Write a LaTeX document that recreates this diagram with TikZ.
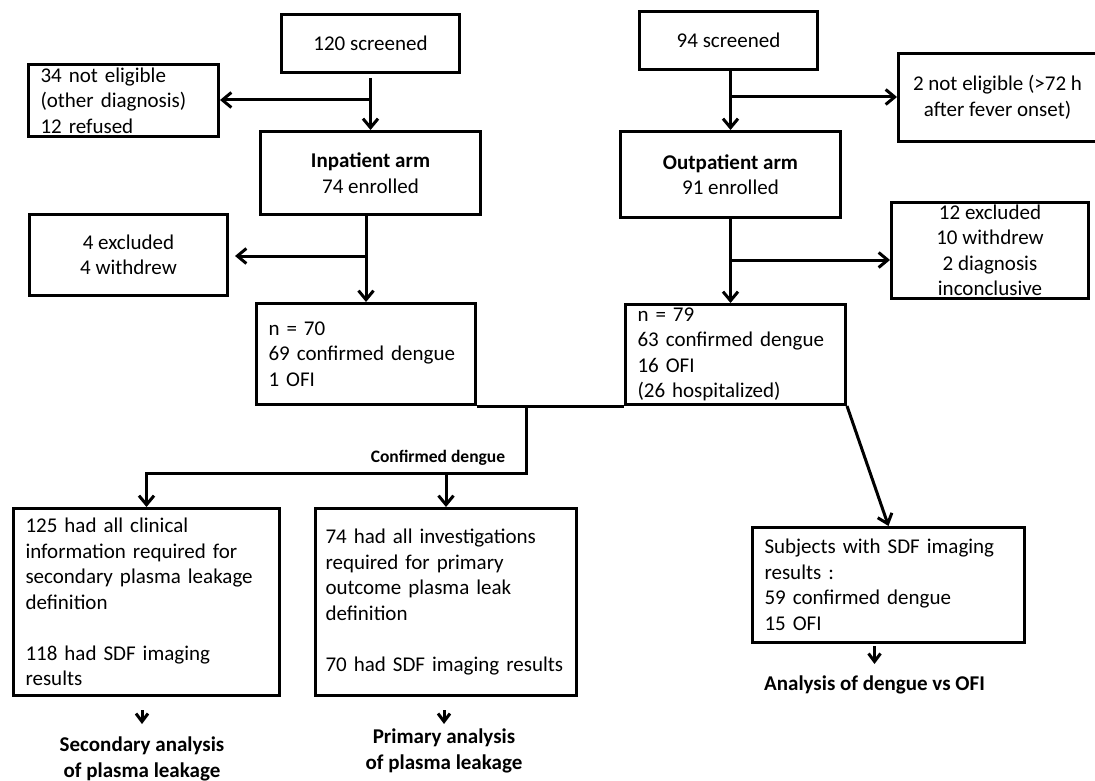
\documentclass[tikz,border=0pt]{standalone}
\usepackage{fontspec}
\setmainfont{Carlito}
\usetikzlibrary{arrows.meta}
\hyphenpenalty=10000
\exhyphenpenalty=10000
\newcommand{\boxfont}{\fontsize{21pt}{25.5pt}\selectfont}
\newcommand{\tagfont}{\fontsize{17.5pt}{21pt}\selectfont\bfseries}
\newcommand{\rulew}{3pt}
\tikzstyle{stage}=[draw=black,line width=\rulew,shape=rectangle,inner xsep=12pt,
                   inner ysep=1pt,font=\boxfont,align=center]
\tikzstyle{note}=[stage,align=left]
\tikzstyle{outcome}=[draw=none,inner sep=0pt,font=\boxfont\bfseries,align=center]
\tikzstyle{tag}=[draw=none,inner sep=0pt,font=\tagfont]
\tikzstyle{flow}=[line width=\rulew,-{Straight Barb[length=9pt,width=15pt]}]
\tikzstyle{tick}=[line width=\rulew,-{Straight Barb[length=8pt,width=12pt]}]
\begin{document}
\begin{tikzpicture}[x=1pt,y=-1pt]
\useasboundingbox (0,0) rectangle (1095,781);

\node [stage, minimum width=178pt, minimum height=58pt] (inscr) at (370.5,43.5) {120 screened};
\node [note, text width=166pt, minimum height=72pt] (inelig) at (123.5,100.5)
      {34 not eligible\\(other diagnosis)\\12 refused};
\node [stage, minimum width=220pt, minimum height=83pt] (inarm) at (370.5,173)
      {\textbf{Inpatient arm}\\74 enrolled};
\node [stage, minimum width=198pt, minimum height=81pt] (inexcl) at (128.5,255)
      {4 excluded\\4 withdrew};
\node [note, text width=195pt, minimum height=101pt] (inres) at (366,354)
      {n = 70\\69 confirmed dengue\\1 OFI};

\node [stage, minimum width=178pt, minimum height=58pt] (outscr) at (728.5,40.5) {94 screened};
\node [stage, minimum width=198pt, minimum height=88pt] (outelig) at (997.5,97.5)
      {2 not eligible (>72 h\\after fever onset)};
\node [stage, minimum width=220pt, minimum height=86pt] (outarm) at (730.5,174.5)
      {\textbf{Outpatient arm}\\91 enrolled};
\node [stage, minimum width=197pt, minimum height=96pt] (outexcl) at (990,250.5)
      {12 excluded\\10 withdrew\\2 diagnosis\\inconclusive};
\node [note, text width=196pt, minimum height=100pt] (outres) at (735.5,354.5)
      {n = 79\\63 confirmed dengue\\16 OFI\\(26 hospitalized)};

\node [note, text width=242pt, minimum height=187pt] (second) at (146.5,602)
      {125 had all clinical\\information required for\\secondary plasma leakage\\definition\\[25.5pt]118 had SDF imaging\\results};
\node [note, inner xsep=10pt, text width=241pt, minimum height=187pt] (primary) at (446,602)
      {74 had all investigations\\required for primary\\outcome plasma leak\\definition\\[25.5pt]70 had SDF imaging results};
\node [note, text width=248pt, minimum height=115pt] (sdf) at (888.5,585)
      {Subjects with SDF imaging\\results :\\59 confirmed dengue\\15 OFI};

\node [outcome, anchor=north] (secout) at (142,737) {Secondary analysis\\of plasma leakage};
\node [outcome, anchor=north] (priout) at (444,729) {Primary analysis\\of plasma leakage};
\node [outcome, anchor=north] (sdfout) at (874.5,676) {Analysis of dengue vs OFI};
\node [tag] (cdtag) at (438,458) {Confirmed dengue};

\coordinate (injoin) at (370.5,100);
\coordinate (inexit) at (366,256);
\coordinate (outjoin) at (730,97);
\coordinate (outexit) at (730,260);
\coordinate (split) at (526.5,406);
\coordinate (bar) at (526.5,473);

\draw [flow, shorten <=4pt] (inscr) -- (inarm);
\draw [flow] (injoin) -- (injoin -| inelig.east);
\draw [flow] (inarm.south -| inres.north) -- (inres.north);
\draw [flow, shorten >=6pt] (inexit) -- (inexit -| inexcl.east);

\draw [flow] (outscr.south -| outarm.north) -- (outarm.north);
\draw [flow] (outjoin) -- (outjoin -| outelig.west);
\draw [flow] (outarm.south) -- (outarm.south |- outres.north);
\draw [flow] (outexit) -- (outexit -| outexcl.west);

\draw [line width=\rulew] (inres.south east) -- (outres.south west);
\draw [flow] (split) |- (second.north |- bar) -- (second.north);
\draw [flow] (primary.north |- bar) -- (primary.north);
\draw [flow] (outres.south east) -- (sdf.north);

\draw [tick, shorten <=13pt, shorten >=13pt] (second.south -| secout.north) -- (secout.north);
\draw [tick, shorten <=13pt, shorten >=5pt] (primary.south -| priout.north) -- (priout.north);
\draw [tick, shorten <=2pt, shorten >=12pt] (sdf.south -| sdfout.north) -- (sdfout.north);
\end{tikzpicture}
\end{document}
